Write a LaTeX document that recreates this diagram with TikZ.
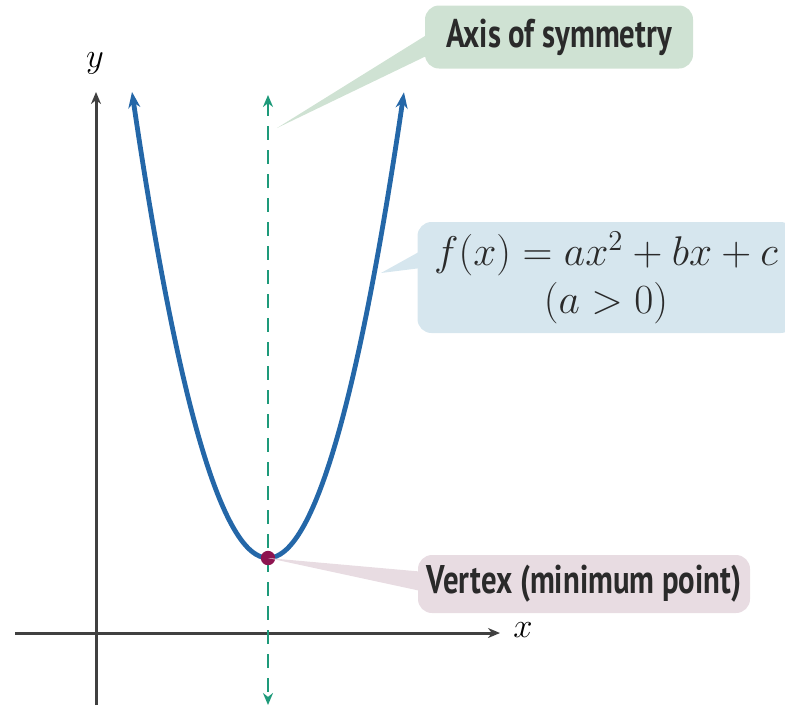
\documentclass[tikz,border=0pt]{standalone}
\usepackage{fontspec}
\usepackage{amsmath,amssymb}
\newfontfamily\calloutfont[FakeStretch=0.77]{PT Sans}
\usetikzlibrary{arrows.meta,positioning,calc}
\definecolor{curveblue}{HTML}{2467A8}
\definecolor{symgreen}{HTML}{1E9A7A}
\definecolor{vertexred}{HTML}{8E1450}
\definecolor{symfill}{HTML}{CFE2D3}
\definecolor{fxfill}{HTML}{D6E6EE}
\definecolor{vtxfill}{HTML}{E8DCE2}
\definecolor{calltext}{HTML}{2A2A2A}
\begin{document}
\begin{tikzpicture}[x=0.5pt,y=-0.5pt,
  callout/.style={rounded corners=7pt, inner sep=0pt, text=calltext,
    font=\calloutfont\bfseries\fontsize{20}{24}\selectfont},
  axisline/.style={black!75, line width=1.5pt, -{Stealth[length=6pt,width=5pt]}}]
  \useasboundingbox (0,0) rectangle (785,709);
  \coordinate (xl) at (15,633);  \coordinate (xr) at (500,633);
  \coordinate (yb) at (96,705);  \coordinate (yt) at (96,92);
  \coordinate (vtx) at (268,558);
  \coordinate (symtip) at (277,128); \coordinate (fxtip) at (381,273);
  % axes
  \draw[axisline] (xl) -- (xr);
  \draw[axisline] (yb) -- (yt);
  \node[font=\itshape\fontsize{19}{20}\selectfont] (ylab) at (95,63) {$y$};
  \node[font=\itshape\fontsize{19}{20}\selectfont] (xlab) at (523,630) {$x$};
  % axis of symmetry and parabola
  \draw[symgreen, line width=1.2pt, dash pattern=on 7pt off 5pt,
    {Stealth[length=6pt,width=5pt]}-{Stealth[length=6pt,width=5pt]}] (268,95) -- (268,705);
  \draw[curveblue, line width=2.4pt, {Stealth[length=8pt,width=6pt]}-{Stealth[length=8pt,width=6pt]}]
    plot[domain=-1.36:1.36, samples=80, smooth] ({268+100*\x},{558-252*\x*\x});
  \fill[vertexred] (vtx) circle (3.6pt);
  % callouts
  \node[callout, fill=symfill, minimum width=134pt, minimum height=31.5pt] (sym) at (559,37) {Axis of symmetry};
  \fill[symfill] (symtip) -- ($(sym.west)+(10,-7)$) -- ($(sym.west)+(10,15)$) -- cycle;
  \node[callout, fill=fxfill, minimum width=188.5pt, minimum height=55.5pt, align=center,
    font=\fontsize{20}{23}\selectfont] (fx) at (606,277.5)
    {$f(x)=ax^2+bx+c$\\[1pt] $(a>0)$};
  \fill[fxfill] (fxtip) -- ($(fx.west)+(8,-29)$) -- ($(fx.west)+(8,-10)$) -- cycle;
  \node[callout, fill=vtxfill, minimum width=166pt, minimum height=29pt] (vbox) at (584,584) {Vertex (minimum point)};
  \fill[vtxfill] (vtx) -- ($(vbox.west)+(8,-12)$) -- ($(vbox.west)+(8,8)$) -- cycle;
\end{tikzpicture}
\end{document}
